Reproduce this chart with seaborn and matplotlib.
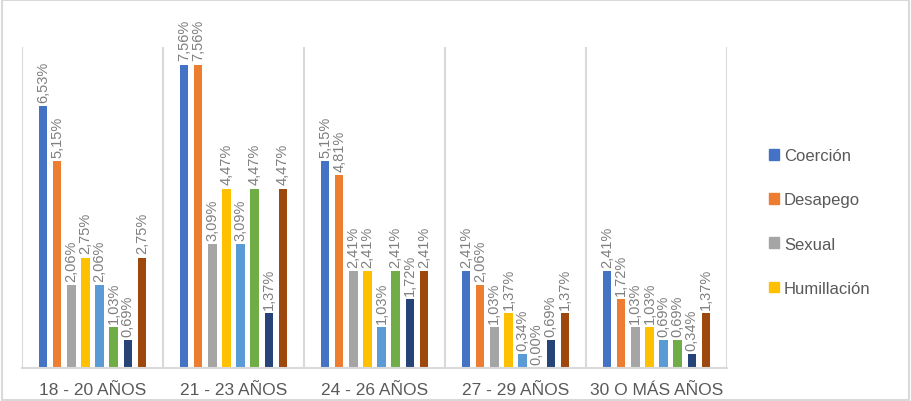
import pandas as pd
import matplotlib.pyplot as plt
import seaborn as sns

# Datos del grafico (porcentajes por grupo de edad)
grupos = ["18 - 20 AÑOS", "21 - 23 AÑOS", "24 - 26 AÑOS", "27 - 29 AÑOS", "30 O MÁS AÑOS"]
series = ["Coerción", "Desapego", "Sexual", "Humillación",
          "Género", "Físico", "Instrumental", "Castigo emocional"]
coercion = [6.53, 7.56, 5.15, 2.41, 2.41]
desapego = [5.15, 7.56, 4.81, 2.06, 1.72]
sexual = [2.06, 3.09, 2.41, 1.03, 1.03]
humillacion = [2.75, 4.47, 2.41, 1.37, 1.03]
genero = [2.06, 3.09, 1.03, 0.34, 0.69]
fisico = [1.03, 4.47, 2.41, 0.00, 0.69]
instrumental = [0.69, 1.37, 1.72, 0.69, 0.34]
castigo = [2.75, 4.47, 2.41, 1.37, 1.37]
colores = ["#4472C4", "#ED7D31", "#A5A5A5", "#FFC000",
           "#5B9BD5", "#70AD47", "#264478", "#9E480E"]

valores = [coercion, desapego, sexual, humillacion, genero, fisico, instrumental, castigo]
filas = []
for s, vals in zip(series, valores):
    for g, v in zip(grupos, vals):
        filas.append({"grupo": g, "serie": s, "valor": v})
df = pd.DataFrame(filas)

sns.set_style("white")
plt.rcParams["font.family"] = ["Liberation Sans", "DejaVu Sans"]

fig = plt.figure(figsize=(9.11, 4.02), dpi=100)
ax = fig.add_axes([22 / 911, 33 / 402, 705 / 911, 321 / 402])

sns.barplot(data=df, x="grupo", y="valor", hue="serie", order=grupos,
            hue_order=series, palette=colores, width=0.8, gap=0.4,
            saturation=1, linewidth=0, ax=ax, legend=False)

# Etiquetas de datos
for cont, vals in zip(ax.containers, valores):
    etiquetas = [f"{v:.2f}%".replace(".", ",") for v in vals]
    ax.bar_label(cont, labels=etiquetas, rotation=90, padding=3,
                 fontsize=10.5, color="#7F7F7F")

ax.set_ylim(0, 8)
ax.set_xlim(-0.5, len(grupos) - 0.5)
for xv in range(len(grupos) + 1):
    ax.axvline(xv - 0.5, color="#D9D9D9", lw=1.5, zorder=0)
ax.set_yticks([])
ax.set_xlabel("")
ax.set_ylabel("")
for lado in ["top", "left", "right"]:
    ax.spines[lado].set_visible(False)
ax.spines["bottom"].set_color("#D9D9D9")
ax.spines["bottom"].set_linewidth(1.5)
ax.tick_params(axis="x", length=0, pad=10, labelsize=12.5, labelcolor="#595959")

# Leyenda (solo las cuatro primeras series, como en el original)
handles = [plt.Rectangle((0, 0), 1, 1, color=c) for c in colores[:4]]
fig.legend(handles, series[:4], loc="center left",
           bbox_to_anchor=(754 / 911, 1 - 223 / 402), frameon=False,
           fontsize=12, labelcolor="#595959", handlelength=0.6,
           handleheight=0.6, handletextpad=0.3, labelspacing=1.75)

# Borde del grafico
fig.patches.append(plt.Rectangle((0.002, 0.003), 0.996, 0.994, transform=fig.transFigure,
                                 fill=False, edgecolor="#D9D9D9", lw=1.5))

fig.savefig("out.png", dpi=100)
